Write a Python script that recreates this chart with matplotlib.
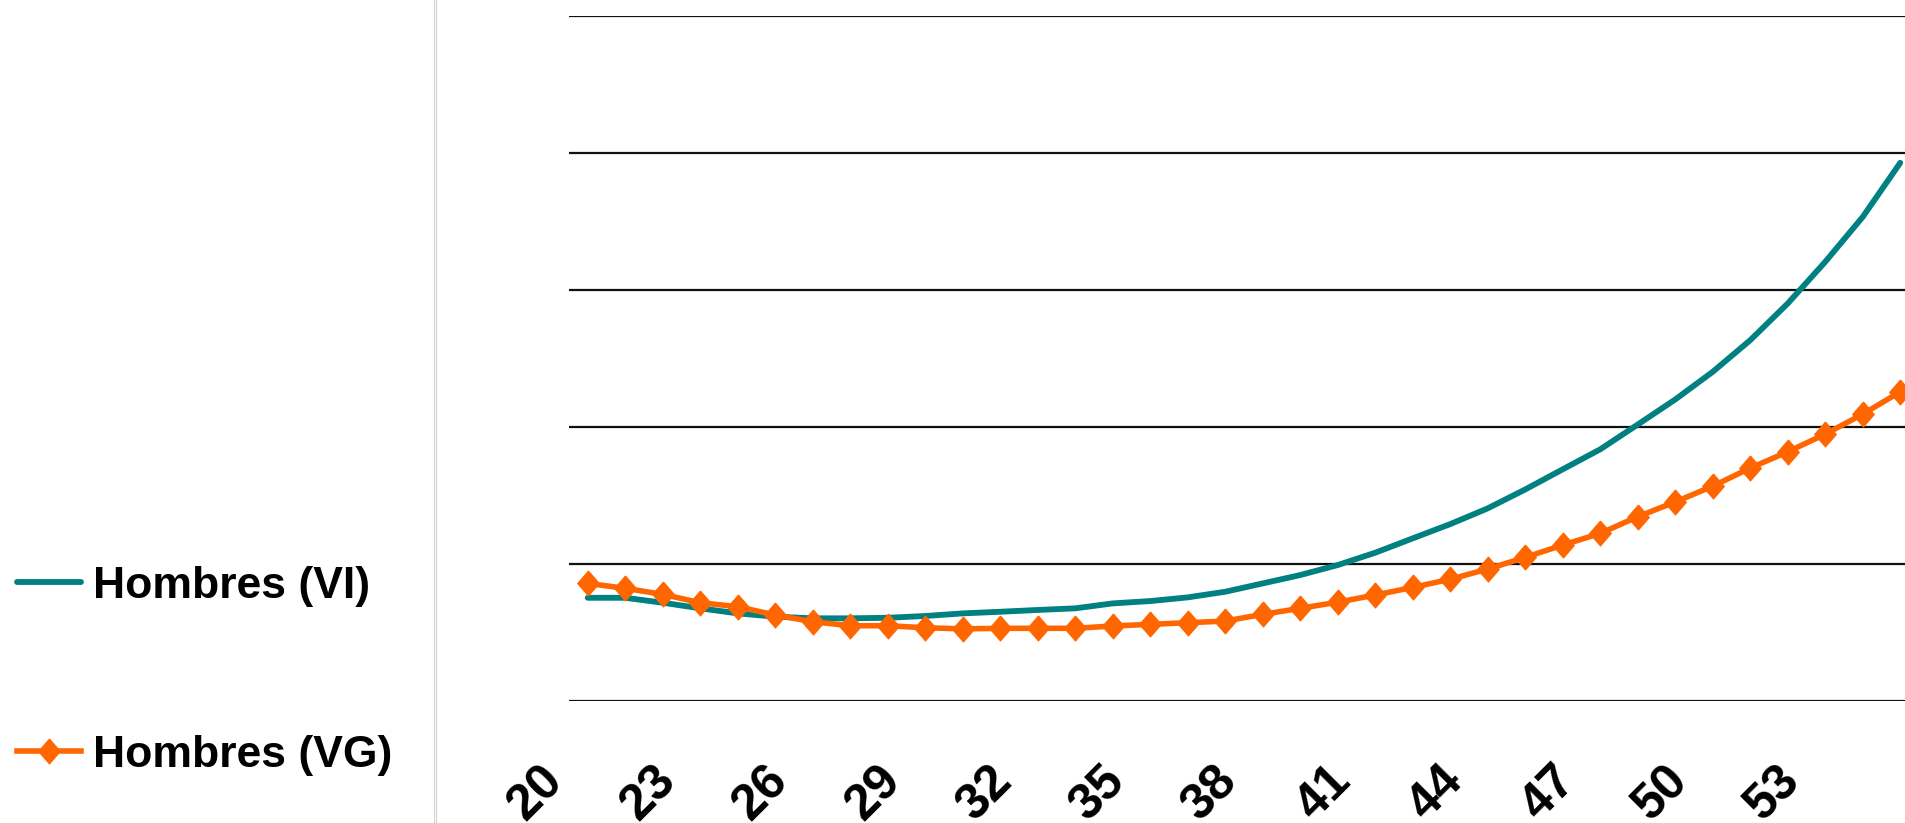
import matplotlib
matplotlib.use("Agg")
import matplotlib.pyplot as plt
from matplotlib.transforms import ScaledTranslation
from matplotlib.lines import Line2D
import numpy as np

# ---- data -------------------------------------------------------------
ages = list(range(20, 56))
hombres_vi = [0.750, 0.750, 0.714, 0.673, 0.636, 0.612, 0.600, 0.600, 0.604, 0.617,
              0.636, 0.648, 0.661, 0.673, 0.709, 0.726, 0.753, 0.794, 0.855, 0.916,
              0.989, 1.079, 1.184, 1.288, 1.403, 1.541, 1.688, 1.834, 2.015, 2.198,
              2.400, 2.631, 2.899, 3.203, 3.531, 3.926]
hombres_vg = [0.855, 0.819, 0.775, 0.714, 0.685, 0.624, 0.575, 0.546, 0.546, 0.531,
              0.523, 0.527, 0.527, 0.527, 0.544, 0.556, 0.568, 0.580, 0.629, 0.673,
              0.718, 0.770, 0.826, 0.885, 0.960, 1.045, 1.135, 1.220, 1.342, 1.450,
              1.565, 1.697, 1.816, 1.945, 2.091, 2.254]
tick_ages = list(range(20, 54, 3))
series_labels = ["Hombres (VI)", "Hombres (VG)"]
y_grid = [0, 1, 2, 3, 4, 5]

# ---- figure -----------------------------------------------------------
W, H, DPI = 1906, 823, 100
fig = plt.figure(figsize=(W / DPI, H / DPI), dpi=DPI)
plt.rcParams['font.family'] = ['Liberation Sans', 'DejaVu Sans']

left_px, right_px = 569, 569 + 36 * 37.5
top_px, bot_px = 15.7, 700.5
ax = fig.add_axes([left_px / W, 1 - bot_px / H,
                   (right_px - left_px) / W, (bot_px - top_px) / H])

diamond = [(0, 1), (0.87, 0), (0, -1), (-0.87, 0), (0, 1)]

x = np.arange(len(ages))
ax.plot(x, hombres_vi, color="#008080", lw=4.2, solid_capstyle="round",
        solid_joinstyle="round", label=series_labels[0], zorder=3)
ax.plot(x, hombres_vg, color="#FF6600", lw=4.0, marker=diamond, markersize=18,
        markeredgewidth=0.8, markeredgecolor="#FF6600", solid_joinstyle="round",
        label=series_labels[1], zorder=4)

ax.set_xlim(-0.5, len(ages) - 0.5)
ax.set_ylim(y_grid[0], y_grid[-1])
ax.set_yticks(y_grid)
ax.yaxis.grid(True, color="#111111", lw=1.6)
ax.set_axisbelow(True)
ax.tick_params(axis="y", length=0, labelleft=False)
for s in ax.spines.values():
    s.set_visible(False)

tick_pos = [ages.index(a) for a in tick_ages]
ax.set_xticks(tick_pos, [str(a) for a in tick_ages], rotation=45, ha="right",
              fontsize=36, fontweight="bold")
ax.tick_params(axis="x", length=0, pad=41)
off = ScaledTranslation(-16 / DPI, 0, fig.dpi_scale_trans)
for lab in ax.get_xticklabels():
    lab.set_transform(lab.get_transform() + off)

# legend on the left
leg = fig.legend(loc="upper left", bbox_to_anchor=(17 / W, 1 - 566 / H),
                 frameon=False, prop={"weight": "bold", "size": 32},
                 handlelength=1.45, handletextpad=0.27, labelspacing=2.88,
                 borderpad=0, borderaxespad=0)

# thin separator lines
for xp in (433.8, 436.2):
    fig.add_artist(Line2D([xp / W, xp / W], [0, 1], transform=fig.transFigure,
                          color="#d4d4d4", lw=0.8))

fig.savefig("out.png", dpi=DPI)
